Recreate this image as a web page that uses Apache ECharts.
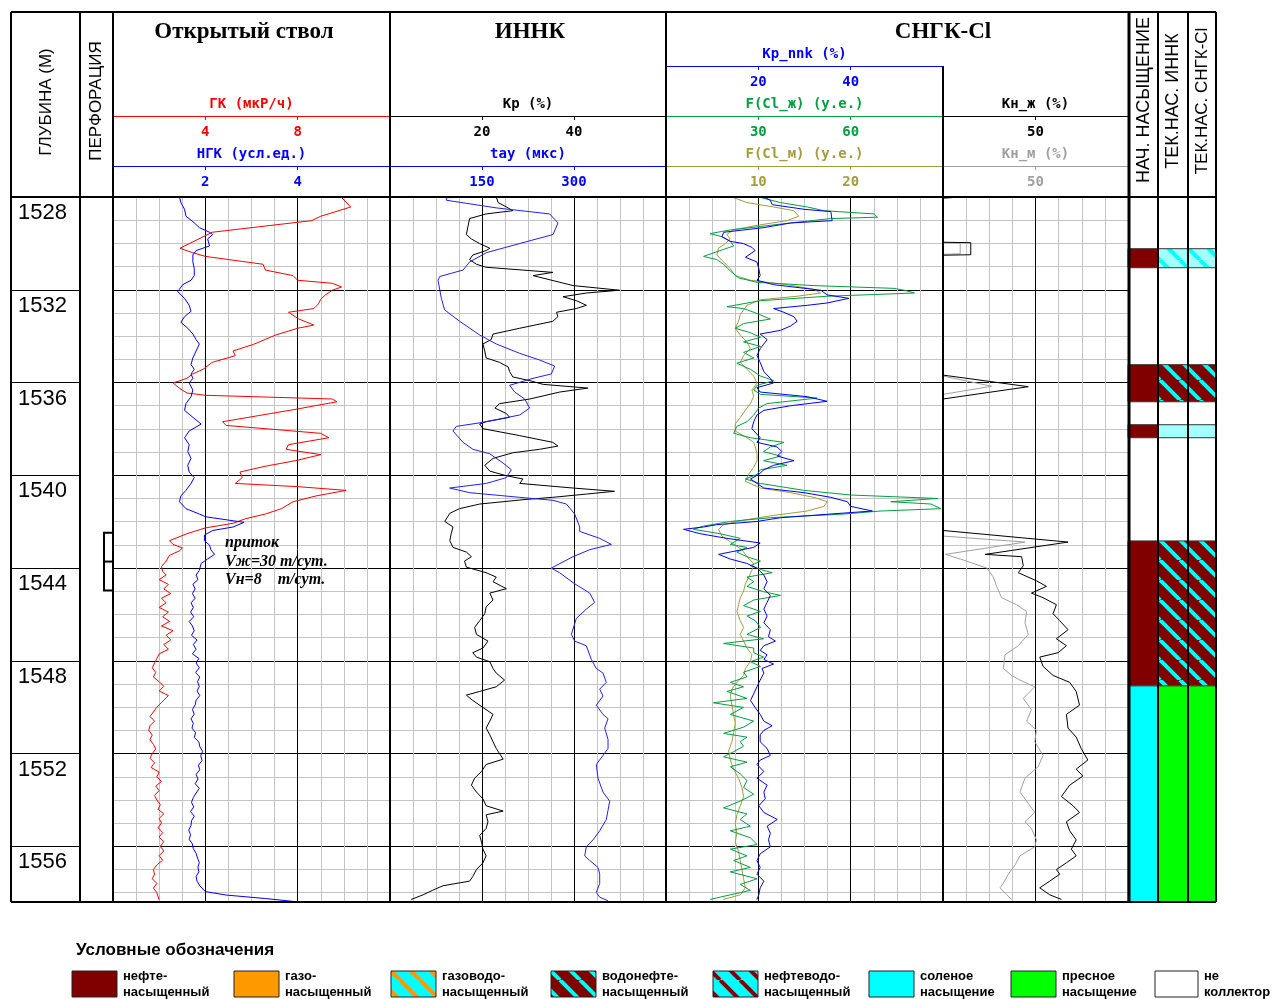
<!DOCTYPE html>
<html><head><meta charset="utf-8">
<script src="https://cdn.jsdelivr.net/npm/echarts@6/dist/echarts.min.js"></script>
<style>html,body{margin:0;padding:0;background:#fff}#c{width:1274px;height:999px}</style>
</head><body><div id="c"></div>
<script>
// ---------------- DATA ----------------
const depthMin = 1528, depthMax = 1558.4;
const depthTicks = [1528, 1532, 1536, 1540, 1544, 1548, 1552, 1556];

// [depth, value]
const gk = [[1528.00,4.0],[1528.02,9.9],[1528.43,10.3],[1528.83,9.0],[1529.02,8.6],[1529.52,4.3],[1530.21,2.9],[1530.40,3.45],[1530.56,4.0],[1530.90,6.5],[1531.15,6.6],[1531.39,7.8],[1531.59,8.0],[1531.72,9.5],[1531.88,9.9],[1532.02,9.5],[1532.22,9.2],[1532.41,9.0],[1532.61,8.9],[1532.81,8.7],[1532.97,7.6],[1533.26,8.05],[1533.52,8.7],[1533.66,8.0],[1533.95,7.05],[1534.35,6.1],[1534.64,5.2],[1534.84,5.3],[1535.13,4.3],[1535.43,3.9],[1535.63,3.45],[1535.82,3.2],[1536.02,2.6],[1536.26,2.9],[1536.45,3.2],[1536.55,4.0],[1536.71,9.5],[1536.83,9.7],[1537.14,8.0],[1537.69,4.75],[1537.85,4.9],[1538.19,9.0],[1538.38,9.35],[1538.68,7.6],[1538.88,7.5],[1539.11,9.0],[1539.37,7.9],[1539.61,6.6],[1539.86,5.5],[1540.10,5.6],[1540.35,5.3],[1540.49,8.0],[1540.65,10.1],[1540.89,8.8],[1541.14,7.8],[1541.44,7.3],[1541.67,6.6],[1541.87,5.75],[1542.07,5.2],[1542.27,4.0],[1542.52,3.2],[1542.82,2.45],[1542.98,2.6],[1543.13,3.0],[1543.25,2.9],[1543.45,2.45],[1543.70,2.3],[1543.94,2.1],[1544.14,2.15],[1544.30,2.3],[1544.50,2.0],[1544.70,2.4],[1544.90,2.2],[1545.10,2.5],[1545.30,2.1],[1545.50,2.3],[1545.70,2.0],[1545.90,2.4],[1546.10,2.15],[1546.30,2.45],[1546.50,2.1],[1546.70,2.6],[1546.90,2.3],[1547.10,2.5],[1547.30,2.2],[1547.50,2.4],[1547.70,2.0],[1547.90,1.9],[1548.10,1.8],[1548.30,1.7],[1548.50,1.85],[1548.70,1.75],[1548.90,2.0],[1549.10,2.2],[1549.30,2.0],[1549.50,2.4],[1549.60,2.3],[1549.80,2.1],[1550.00,1.9],[1550.20,1.75],[1550.40,1.6],[1550.60,1.8],[1550.80,1.6],[1551.00,1.55],[1551.20,1.7],[1551.40,1.6],[1551.60,1.75],[1551.80,1.85],[1552.00,1.7],[1552.20,1.6],[1552.40,1.8],[1552.60,1.65],[1552.80,2.0],[1553.00,1.9],[1553.20,2.1],[1553.40,1.85],[1553.60,2.0],[1553.80,1.8],[1554.00,1.9],[1554.20,2.05],[1554.40,1.95],[1554.60,2.2],[1554.80,2.0],[1555.00,2.1],[1555.20,1.95],[1555.40,2.15],[1555.60,2.0],[1555.80,2.2],[1556.00,2.05],[1556.20,2.2],[1556.40,2.0],[1556.60,2.15],[1556.80,1.9],[1557.00,1.75],[1557.20,1.8],[1557.40,1.7],[1557.60,1.9],[1557.80,1.75],[1558.00,1.9],[1558.30,2.0]];

const ngk = [[1528.00,1.44],[1528.24,1.47],[1528.53,1.55],[1528.83,1.58],[1529.06,1.73],[1529.32,1.87],[1529.52,2.09],[1529.62,2.16],[1529.81,2.05],[1530.11,2.09],[1530.31,1.80],[1530.50,1.73],[1530.80,1.73],[1531.09,1.76],[1531.39,1.76],[1531.59,1.69],[1531.78,1.51],[1532.08,1.40],[1532.37,1.55],[1532.67,1.65],[1532.93,1.69],[1533.16,1.55],[1533.40,1.47],[1533.66,1.62],[1533.91,1.73],[1534.15,1.80],[1534.34,1.87],[1534.64,1.80],[1534.94,1.73],[1535.23,1.69],[1535.43,1.76],[1535.63,1.69],[1535.82,1.73],[1536.02,1.65],[1536.32,1.73],[1536.61,1.69],[1536.91,1.58],[1537.20,1.55],[1537.50,1.73],[1537.79,1.91],[1538.09,1.65],[1538.38,1.55],[1538.68,1.65],[1538.98,1.62],[1539.27,1.69],[1539.57,1.62],[1539.86,1.65],[1540.10,1.76],[1540.35,1.69],[1540.65,1.58],[1540.89,1.47],[1541.14,1.44],[1541.44,1.58],[1541.67,1.87],[1541.79,2.01],[1542.03,2.84],[1542.23,2.60],[1542.38,2.16],[1542.58,1.98],[1542.82,1.98],[1543.01,2.09],[1543.21,2.12],[1543.41,2.20],[1543.61,2.05],[1543.80,1.91],[1544.10,1.87],[1544.30,1.80],[1544.50,1.84],[1544.70,1.73],[1544.90,1.78],[1545.10,1.72],[1545.30,1.78],[1545.50,1.69],[1545.70,1.74],[1545.90,1.68],[1546.10,1.75],[1546.30,1.65],[1546.50,1.72],[1546.70,1.76],[1546.90,1.70],[1547.10,1.82],[1547.30,1.74],[1547.50,1.80],[1547.70,1.72],[1547.90,1.86],[1548.10,1.80],[1548.30,1.87],[1548.50,1.79],[1548.70,1.88],[1548.90,1.83],[1549.10,1.87],[1549.30,1.82],[1549.50,1.88],[1549.70,1.80],[1549.90,1.78],[1550.10,1.72],[1550.30,1.76],[1550.50,1.69],[1550.70,1.74],[1550.90,1.71],[1551.10,1.79],[1551.30,1.76],[1551.50,1.86],[1551.70,1.88],[1551.90,1.94],[1552.10,1.90],[1552.30,1.93],[1552.50,1.85],[1552.70,1.88],[1552.90,1.80],[1553.10,1.84],[1553.30,1.78],[1553.50,1.87],[1553.70,1.80],[1553.90,1.74],[1554.10,1.70],[1554.30,1.75],[1554.50,1.68],[1554.70,1.76],[1554.90,1.70],[1555.10,1.69],[1555.30,1.64],[1555.50,1.68],[1555.70,1.65],[1555.90,1.72],[1556.10,1.74],[1556.30,1.80],[1556.50,1.83],[1556.70,1.87],[1556.90,1.84],[1557.10,1.86],[1557.30,1.80],[1557.50,1.82],[1557.70,1.88],[1557.95,2.00],[1558.10,2.45],[1558.25,3.30],[1558.40,4.03]];

const kp = [[1528.00,23.1],[1528.24,23.5],[1528.43,25.3],[1528.59,26.7],[1528.73,20.9],[1528.93,17.3],[1529.22,17.0],[1529.62,16.6],[1529.81,17.7],[1530.01,19.5],[1530.21,21.7],[1530.31,20.9],[1530.50,18.0],[1530.70,17.3],[1530.90,18.8],[1531.03,20.9],[1531.25,35.4],[1531.39,31.1],[1531.82,39.8],[1532.02,49.9],[1532.14,42.7],[1532.30,37.6],[1532.47,40.5],[1532.67,42.7],[1532.81,40.5],[1532.97,36.2],[1533.16,36.5],[1533.36,35.4],[1533.66,28.2],[1533.91,22.4],[1534.15,22.0],[1534.34,20.2],[1534.64,20.6],[1534.94,20.9],[1535.13,23.8],[1535.33,25.7],[1535.53,26.0],[1535.76,26.7],[1535.92,30.4],[1536.08,33.3],[1536.24,43.0],[1536.41,36.9],[1536.71,30.4],[1536.91,23.8],[1537.10,22.8],[1537.34,25.3],[1537.50,26.0],[1537.69,20.9],[1537.79,19.5],[1537.99,20.2],[1538.29,28.2],[1538.58,35.4],[1538.74,36.5],[1538.88,32.5],[1539.03,26.7],[1539.27,22.4],[1539.57,20.6],[1539.82,21.7],[1540.02,25.3],[1540.16,28.9],[1540.35,28.2],[1540.55,39.8],[1540.69,48.8],[1540.81,42.7],[1540.95,35.4],[1541.04,29.6],[1541.24,19.5],[1541.44,15.1],[1541.64,13.0],[1541.99,11.9],[1542.23,13.7],[1542.52,13.3],[1542.82,13.0],[1543.11,13.7],[1543.31,16.6],[1543.51,17.7],[1543.70,16.2],[1543.96,16.6],[1544.20,20.9],[1544.39,23.1],[1544.59,22.4],[1544.89,25.3],[1545.08,21.7],[1545.38,22.4],[1545.67,20.9],[1545.97,20.6],[1546.27,19.5],[1546.56,18.4],[1546.86,18.8],[1547.15,21.3],[1547.45,20.2],[1547.65,18.0],[1547.84,18.8],[1548.04,21.7],[1548.33,22.4],[1548.53,23.1],[1548.83,24.9],[1549.12,23.1],[1549.32,19.5],[1549.48,16.6],[1549.71,18.0],[1550.01,20.2],[1550.31,22.4],[1550.60,21.7],[1550.90,20.9],[1551.19,21.7],[1551.49,22.4],[1551.78,23.1],[1552.24,24.6],[1552.47,20.9],[1552.77,19.9],[1553.06,18.4],[1553.36,17.7],[1553.66,18.8],[1553.95,20.2],[1554.25,20.9],[1554.48,24.6],[1554.64,20.9],[1554.94,21.3],[1555.23,20.9],[1555.53,19.5],[1555.82,19.9],[1556.12,20.2],[1556.41,20.9],[1556.71,20.2],[1557.00,18.8],[1557.30,18.0],[1557.50,17.3],[1557.70,11.5],[1557.89,9.3],[1558.09,7.2],[1558.29,4.6]];

const tau = [[1528.00,151.6],[1528.03,91.9],[1528.14,91.9],[1528.47,173.4],[1528.73,260.3],[1529.12,273.9],[1529.62,265.8],[1529.85,233.2],[1530.40,157.1],[1530.80,129.9],[1531.15,119.0],[1531.43,81.0],[1531.59,78.3],[1532.37,83.7],[1532.87,89.1],[1533.36,113.6],[1533.95,146.2],[1534.34,173.4],[1534.74,211.4],[1535.03,244.0],[1535.29,268.5],[1535.63,263.0],[1535.82,233.2],[1536.12,195.1],[1536.41,203.3],[1536.71,219.6],[1537.10,227.7],[1537.40,211.4],[1537.60,173.4],[1537.75,143.5],[1537.89,108.2],[1538.09,102.7],[1538.58,119.0],[1538.88,135.3],[1539.07,162.5],[1539.47,184.2],[1539.76,197.8],[1540.10,189.7],[1540.35,157.1],[1540.55,97.3],[1540.75,129.9],[1540.95,211.4],[1541.08,265.8],[1541.24,287.5],[1541.67,301.1],[1542.23,309.3],[1542.42,309.3],[1542.72,341.9],[1542.98,360.9],[1543.21,325.6],[1543.51,298.4],[1544.00,263.0],[1544.20,276.6],[1544.63,298.4],[1545.08,325.6],[1545.48,333.7],[1545.77,320.1],[1546.17,303.8],[1546.86,295.7],[1547.15,301.1],[1547.35,320.1],[1547.94,328.3],[1548.33,336.4],[1548.53,347.3],[1548.93,352.7],[1549.22,341.9],[1549.52,347.3],[1549.91,336.4],[1550.31,347.3],[1550.50,355.5],[1550.90,350.0],[1551.39,355.5],[1551.78,355.5],[1552.08,347.3],[1552.47,336.4],[1553.06,339.1],[1553.66,347.3],[1554.05,358.2],[1554.44,355.5],[1554.84,352.7],[1555.33,341.9],[1555.72,331.0],[1556.02,320.1],[1556.41,317.4],[1556.61,325.6],[1556.91,339.1],[1557.20,341.9],[1557.60,341.9],[1557.99,336.4],[1558.19,341.9],[1558.35,355.5]];

const kpNnk = [[1528.00,21.2],[1528.14,22.6],[1528.33,23.0],[1528.53,29.9],[1528.63,35.7],[1529.02,36.0],[1529.12,27.0],[1529.32,21.2],[1529.52,12.5],[1529.71,12.1],[1529.91,13.9],[1530.01,16.8],[1530.17,18.6],[1530.31,19.3],[1530.60,17.2],[1530.80,19.7],[1531.09,20.1],[1531.39,20.4],[1531.59,19.7],[1531.78,23.3],[1532.02,33.5],[1532.22,34.9],[1532.37,39.6],[1532.57,34.9],[1532.67,30.6],[1532.81,23.3],[1532.97,25.5],[1533.16,27.7],[1533.36,28.4],[1533.56,27.0],[1533.75,24.8],[1533.91,20.4],[1534.15,21.9],[1534.54,20.4],[1534.84,19.7],[1535.13,20.4],[1535.53,21.2],[1535.82,22.6],[1536.02,23.3],[1536.22,19.7],[1536.41,20.4],[1536.61,30.6],[1536.81,34.9],[1537.00,27.0],[1537.20,21.2],[1537.40,19.7],[1537.69,19.0],[1537.99,18.6],[1538.38,20.4],[1538.58,19.7],[1538.78,24.1],[1538.98,25.1],[1539.17,24.1],[1539.37,27.7],[1539.57,23.3],[1539.76,21.2],[1539.96,20.1],[1540.16,18.3],[1540.35,19.7],[1540.55,21.2],[1540.75,29.9],[1540.95,35.7],[1541.14,39.3],[1541.34,40.0],[1541.54,44.7],[1541.67,35.7],[1541.83,24.8],[1541.99,19.7],[1542.13,11.0],[1542.23,8.1],[1542.33,3.8],[1542.52,7.4],[1542.72,13.2],[1542.92,20.4],[1543.11,19.0],[1543.31,13.9],[1543.41,11.4],[1543.61,13.9],[1543.80,17.5],[1544.00,19.7],[1544.30,21.2],[1544.59,21.9],[1544.89,21.2],[1545.18,22.6],[1545.48,21.9],[1545.77,21.2],[1546.07,21.9],[1546.36,21.2],[1546.66,22.6],[1546.96,22.2],[1547.15,23.7],[1547.35,21.2],[1547.55,20.4],[1547.74,21.9],[1547.94,21.2],[1548.14,23.3],[1548.33,20.8],[1548.53,21.2],[1548.83,20.4],[1549.12,19.7],[1549.42,19.0],[1549.71,18.3],[1550.01,19.3],[1550.31,20.4],[1550.60,21.2],[1550.80,23.0],[1551.00,21.2],[1551.19,20.4],[1551.49,20.4],[1551.78,21.9],[1552.08,22.6],[1552.28,20.4],[1552.47,19.7],[1552.77,21.2],[1553.06,19.7],[1553.36,21.9],[1553.66,21.2],[1553.95,21.5],[1554.25,20.1],[1554.54,21.2],[1554.84,24.1],[1555.13,21.9],[1555.43,22.6],[1555.72,22.2],[1556.02,22.6],[1556.32,20.4],[1556.61,19.7],[1556.91,20.4],[1557.20,19.7],[1557.50,21.2],[1557.79,20.4],[1558.09,20.1],[1558.29,19.7]];

const fClZh = [[1528.00,30.1],[1528.24,37.2],[1528.43,45.9],[1528.59,51.3],[1528.73,67.6],[1528.87,68.7],[1528.93,53.5],[1529.12,40.4],[1529.42,20.9],[1529.58,14.3],[1529.71,18.2],[1529.91,20.9],[1530.11,22.0],[1530.31,17.6],[1530.56,12.2],[1530.70,16.5],[1530.90,18.7],[1531.19,20.9],[1531.49,23.6],[1531.68,29.6],[1531.82,48.0],[1531.94,74.1],[1532.02,77.4],[1532.14,80.7],[1532.28,52.4],[1532.47,30.7],[1532.73,19.8],[1532.81,25.2],[1532.97,28.5],[1533.26,33.9],[1533.46,25.2],[1533.66,22.5],[1533.85,27.4],[1534.05,30.7],[1534.25,25.2],[1534.44,30.7],[1534.70,25.2],[1534.94,28.5],[1535.17,23.0],[1535.43,27.4],[1535.72,30.7],[1535.92,35.0],[1536.12,29.6],[1536.32,28.5],[1536.51,30.7],[1536.67,49.1],[1536.91,32.8],[1537.10,30.1],[1537.40,28.5],[1537.69,26.3],[1537.89,23.0],[1538.19,22.0],[1538.38,27.4],[1538.58,38.3],[1538.78,33.9],[1538.98,31.7],[1539.17,37.2],[1539.37,31.7],[1539.57,39.3],[1539.76,30.7],[1539.96,29.6],[1540.16,25.8],[1540.35,30.7],[1540.65,44.8],[1540.85,60.0],[1541.00,88.3],[1541.14,73.0],[1541.24,86.1],[1541.44,89.3],[1541.54,69.8],[1541.67,57.8],[1541.83,33.9],[1541.99,20.9],[1542.19,12.2],[1542.33,8.9],[1542.52,17.6],[1542.72,24.1],[1542.98,20.9],[1543.11,26.3],[1543.31,23.0],[1543.51,26.3],[1543.70,30.7],[1543.90,27.4],[1544.10,31.7],[1544.20,34.5],[1544.39,26.3],[1544.59,28.5],[1544.79,26.3],[1545.02,31.7],[1545.18,37.2],[1545.38,28.5],[1545.62,25.2],[1545.87,30.7],[1546.07,26.3],[1546.27,29.0],[1546.56,30.7],[1546.86,26.3],[1547.05,31.7],[1547.25,18.7],[1547.45,28.5],[1547.65,28.5],[1547.84,31.7],[1548.04,27.4],[1548.24,30.7],[1548.49,25.2],[1548.69,26.3],[1548.93,20.9],[1549.12,25.2],[1549.32,19.8],[1549.62,26.3],[1549.81,15.4],[1550.01,25.2],[1550.31,20.9],[1550.60,28.5],[1550.86,25.2],[1551.13,18.7],[1551.29,26.3],[1551.49,24.1],[1551.68,25.2],[1551.92,22.0],[1552.14,18.7],[1552.37,26.3],[1552.57,20.9],[1552.87,24.1],[1553.16,26.3],[1553.46,25.2],[1553.75,28.5],[1554.05,24.1],[1554.34,18.7],[1554.60,26.3],[1554.84,24.1],[1555.13,27.4],[1555.33,20.9],[1555.63,27.4],[1555.92,29.6],[1556.12,20.9],[1556.41,26.3],[1556.61,22.0],[1556.91,27.4],[1557.10,20.9],[1557.40,29.6],[1557.64,24.1],[1557.90,27.4],[1558.09,20.9],[1558.29,14.3]];

const fClM = [[1528.00,7.14],[1528.24,8.77],[1528.43,11.67],[1528.59,13.84],[1528.83,14.38],[1529.02,13.12],[1529.22,9.86],[1529.42,7.32],[1529.62,6.59],[1529.81,6.96],[1530.01,6.41],[1530.21,5.69],[1530.50,5.51],[1530.80,6.23],[1531.09,6.96],[1531.39,7.50],[1531.59,9.13],[1531.78,13.12],[1531.98,16.01],[1532.14,16.74],[1532.28,14.20],[1532.43,10.22],[1532.67,8.77],[1532.87,8.41],[1533.06,8.04],[1533.36,7.86],[1533.66,7.50],[1533.95,8.04],[1534.25,8.77],[1534.54,9.13],[1534.84,8.41],[1535.13,8.04],[1535.43,8.77],[1535.72,9.49],[1536.02,9.86],[1536.32,9.31],[1536.61,9.49],[1536.91,9.13],[1537.20,8.59],[1537.50,8.04],[1537.79,7.50],[1538.09,7.50],[1538.38,8.77],[1538.58,9.49],[1538.78,9.67],[1539.07,9.86],[1539.37,9.86],[1539.66,9.49],[1539.96,8.95],[1540.26,8.59],[1540.55,10.22],[1540.75,13.48],[1540.95,16.01],[1541.14,17.46],[1541.34,17.10],[1541.54,15.29],[1541.73,11.67],[1541.93,8.41],[1542.13,6.23],[1542.33,5.69],[1542.62,6.05],[1542.92,7.14],[1543.21,8.22],[1543.51,8.77],[1543.80,9.49],[1544.10,9.31],[1544.39,8.95],[1544.69,8.59],[1544.99,8.41],[1545.28,8.04],[1545.58,7.86],[1545.87,7.68],[1546.27,8.04],[1546.56,8.41],[1546.86,8.04],[1547.15,8.41],[1547.45,8.77],[1547.74,9.31],[1548.04,9.13],[1548.33,8.59],[1548.63,8.41],[1548.93,7.68],[1549.22,7.14],[1549.52,6.96],[1549.91,7.14],[1550.31,7.32],[1550.70,7.50],[1551.09,7.32],[1551.49,7.14],[1551.88,6.78],[1552.28,6.96],[1552.67,7.32],[1553.06,7.86],[1553.46,8.22],[1553.85,8.41],[1554.25,8.04],[1554.64,7.68],[1555.03,7.50],[1555.43,7.68],[1555.82,7.50],[1556.22,7.86],[1556.61,8.04],[1557.00,8.22],[1557.40,8.41],[1557.79,8.59],[1558.09,8.04],[1558.29,6.23]];

// null = break in the curve
const knZh = [[1528.00,10.2],[1528.05,0],null,[1529.95,0],[1529.97,15.0],[1530.49,15.0],[1530.51,0],null,[1535.68,0],[1536.18,46.1],[1536.71,0],null,[1542.38,0],[1542.88,67.6],[1543.41,22.8],[1543.51,42.5],[1543.90,43.4],[1544.20,40.7],[1544.55,50.5],[1544.79,55.9],[1545.08,47.8],[1545.28,54.1],[1545.58,61.3],[1545.97,59.5],[1546.27,63.1],[1546.66,67.6],[1547.05,61.3],[1547.35,66.7],[1547.65,62.2],[1547.84,52.3],[1548.24,54.1],[1548.63,59.5],[1548.93,68.5],[1549.32,72.0],[1549.91,73.8],[1550.31,66.7],[1550.90,67.6],[1551.29,72.0],[1551.78,74.7],[1552.28,78.3],[1552.67,72.0],[1552.97,75.6],[1553.36,68.5],[1553.85,64.0],[1554.25,70.3],[1554.54,73.8],[1554.94,66.7],[1555.33,68.5],[1555.72,72.0],[1556.12,69.4],[1556.41,72.0],[1556.71,66.7],[1557.00,61.3],[1557.20,63.1],[1557.50,57.7],[1557.79,52.3],[1558.09,57.7],[1558.29,64.0]];

const knM = [[1529.97,0],[1529.99,9.3],[1530.45,9.3],[1530.47,0],null,[1535.72,0],[1536.16,26.3],[1536.51,0],null,[1542.62,0],[1542.88,44.3],[1543.41,1.3],[1543.61,9.3],[1544.00,23.7],[1544.39,27.2],[1544.79,29.0],[1545.28,31.7],[1545.58,39.8],[1545.87,45.2],[1546.36,44.3],[1546.86,46.1],[1547.35,40.7],[1547.74,33.5],[1548.33,32.6],[1548.63,37.1],[1548.83,41.6],[1549.12,49.6],[1549.62,43.4],[1550.11,47.8],[1550.60,45.2],[1551.00,50.5],[1551.49,49.6],[1552.08,54.1],[1552.57,51.4],[1553.06,44.3],[1553.66,41.6],[1554.15,46.1],[1554.54,49.6],[1554.94,44.3],[1555.23,47.8],[1555.72,50.5],[1556.02,49.6],[1556.41,41.6],[1556.81,38.9],[1557.20,35.3],[1557.59,32.6],[1557.79,30.8],[1558.09,34.4],[1558.29,37.1]];

// perforation interval [top, middle mark, bottom]
const perforation = [1542.48, 1543.72, 1544.97];

// saturation intervals [from, to, kind]
const satInitial = [[1530.23,1531.05,'oil'],[1535.23,1536.83,'oil'],[1537.82,1538.38,'oil'],[1542.83,1549.08,'oil'],[1549.08,1558.4,'salt']];
const satInnk    = [[1530.23,1531.05,'lightStriped'],[1535.23,1536.83,'waterOil'],[1537.82,1538.38,'light'],[1542.83,1549.08,'waterOil'],[1549.08,1558.4,'fresh']];
const satSngk    = [[1530.23,1531.05,'lightStriped'],[1535.23,1536.83,'waterOil'],[1537.82,1538.38,'light'],[1542.83,1549.08,'waterOil'],[1549.08,1558.4,'fresh']];

const legendItems = [['oil','нефте-','насыщенный'],['gas','газо-','насыщенный'],['gasWater','газоводо-','насыщенный'],['waterOil','водонефте-','насыщенный'],['oilWater','нефтеводо-','насыщенный'],['salt','соленое','насыщение'],['fresh','пресное','насыщение'],['none','не','коллектор']];

// ---------------- STYLE ----------------
const MONO = '"DejaVu Sans Mono", monospace';
const SANS = '"Liberation Sans", Arial, sans-serif';
const SERIF = '"Liberation Serif", "Times New Roman", serif';
const MAJ = '#000000', MIN = '#c4c4c4';
const C = {red:'#ff0000', blue:'#0000ff', green:'#00a040', olive:'#a39b3c', gray:'#a0a0a0', black:'#000'};

function stripes(bg, fg, P, w) {
  const c = document.createElement('canvas'); c.width = P; c.height = P;
  const g = c.getContext('2d'); g.fillStyle = bg; g.fillRect(0, 0, P, P);
  g.strokeStyle = fg; g.lineWidth = w;
  for (let k = -1; k <= 1; k++) { g.beginPath(); g.moveTo(k * P, 0); g.lineTo(k * P + P, P); g.stroke(); }
  return {image: c, repeat: 'repeat'};
}
const MAROON = '#800000', CYAN = '#00ffff', LCYAN = '#a4ffff';
const FILL = {
  oil: MAROON, gas: '#ff9900', salt: CYAN, fresh: '#00ff00', none: '#ffffff', light: LCYAN,
  lightStriped: stripes(LCYAN, CYAN, 20, 4),
  waterOil: stripes(MAROON, CYAN, 20, 4),
  oilWater: stripes(CYAN, MAROON, 20, 4),
  gasWater: stripes(CYAN, '#ff9900', 20, 4)
};

// ---------------- LAYOUT ----------------
const TOP = 197, H = 705;
const gridDefs = [[11,69],[80,33],[113,277],[390,276],[666,277],[943,185],[1128,30],[1158,30],[1188,28]];
const grids = gridDefs.map(g => ({left: g[0], width: g[1], top: TOP, height: H, containLabel: false, outerBoundsMode: 'none'}));

const xAxes = [], yAxes = [];
function addX(o) {
  xAxes.push(Object.assign({type: 'value', axisLine: {show: false, onZero: false}, axisTick: {show: false},
    axisLabel: {show: false}, splitLine: {show: false}}, o));
  return xAxes.length - 1;
}
function gridX(g, n) {
  return addX({gridIndex: g, position: 'bottom', min: 0, max: n, interval: 1,
    splitLine: {show: true, lineStyle: {color: [MAJ, MIN, MIN, MIN], width: 1}}});
}
function hdrX(g, offset, min, max, interval, name, color) {
  return addX({gridIndex: g, position: 'top', offset, min, max, interval, name, nameLocation: 'middle', nameGap: 3,
    nameTextStyle: {color, fontFamily: MONO, fontWeight: 'bold', fontSize: 14},
    axisLine: {show: true, onZero: false, lineStyle: {color, width: 1}},
    axisTick: {show: true, inside: true, length: 4, lineStyle: {color, width: 1}},
    axisLabel: {show: true, inside: true, margin: 9, color, fontFamily: MONO, fontWeight: 'bold', fontSize: 14,
      showMinLabel: false, showMaxLabel: false},
    splitLine: {show: false}});
}
gridDefs.forEach((g, i) => {
  const y = {gridIndex: i, type: 'value', inverse: true, min: depthMin, max: depthMax, interval: 1,
    axisLine: {show: false}, axisTick: {show: false}, axisLabel: {show: false}, splitLine: {show: false}};
  if (i >= 2 && i <= 5) y.splitLine = {show: true, lineStyle: {color: [MAJ, MIN, MIN, MIN], width: 1}};
  if (i === 0) {
    y.interval = 4;
    y.splitLine = {show: true, lineStyle: {color: '#000', width: 1}};
    y.axisLabel = {show: true, inside: true, align: 'left', verticalAlign: 'top', margin: 7, padding: [5, 0, 0, 0],
      fontSize: 22, lineHeight: 22, fontFamily: SANS, color: '#000', showMaxLabel: false,
      formatter: v => depthTicks.indexOf(v) >= 0 ? String(v) : ''};
  }
  yAxes.push(y);
});

const xDepth = addX({gridIndex: 0, min: 0, max: 1});
const xPerf = addX({gridIndex: 1, min: 0, max: 1});
gridX(2, 12);
const xGK  = hdrX(2, 81, 0, 12, 4, 'ГК (мкР/ч)', C.red);
const xNGK = hdrX(2, 31, 0, 6, 2, 'НГК (усл.ед.)', C.blue);
gridX(3, 12);
const xKp  = hdrX(3, 81, 0, 60, 20, 'Кр (%)', C.black);
const xTau = hdrX(3, 31, 0, 450, 150, 'tay (мкс)', C.blue);
gridX(4, 12);
const xKpN = hdrX(4, 131, 0, 60, 20, 'Кр_nnk (%)', C.blue);
const xFZ  = hdrX(4, 81, 0, 90, 30, 'F(Cl_ж) (у.е.)', C.green);
const xFM  = hdrX(4, 31, 0, 30, 10, 'F(Cl_м) (у.е.)', C.olive);
gridX(5, 8);
const xKnZ = hdrX(5, 81, 0, 100, 50, 'Кн_ж (%)', C.black);
const xKnM = hdrX(5, 31, 0, 100, 50, 'Кн_м (%)', C.gray);
const xC1 = addX({gridIndex: 6, min: 0, max: 1});
const xC2 = addX({gridIndex: 7, min: 0, max: 1});
const xC3 = addX({gridIndex: 8, min: 0, max: 1});

function curve(data, xi, yi, color) {
  return {type: 'line', xAxisIndex: xi, yAxisIndex: yi, symbol: 'none', silent: true, z: 5,
    data: data.map(p => p ? [p[1], p[0]] : ['-', '-']), connectNulls: false,
    lineStyle: {color, width: 1}, itemStyle: {color}};
}
function satSeries(rows, xi, yi) {
  return {type: 'custom', xAxisIndex: xi, yAxisIndex: yi, silent: true, z: 3,
    data: rows.map(r => [r[0], r[1]]),
    renderItem: (params, api) => {
      const p0 = api.coord([0, api.value(0)]), p1 = api.coord([1, api.value(1)]);
      return {type: 'rect', shape: {x: p0[0], y: p0[1], width: p1[0] - p0[0], height: p1[1] - p0[1]},
        style: {fill: FILL[rows[params.dataIndex][2]], stroke: '#333', lineWidth: 1}};
    }};
}
const perfSeries = {type: 'custom', xAxisIndex: xPerf, yAxisIndex: 1, silent: true, z: 6,
  data: [[perforation[0], perforation[1], perforation[2]]],
  renderItem: (params, api) => {
    const a = api.coord([1, api.value(0)]), m = api.coord([1, api.value(1)]), b = api.coord([1, api.value(2)]);
    const L = a[0] - 9;
    return {type: 'group', children: [
      {type: 'polyline', shape: {points: [[a[0], a[1]], [L, a[1]], [L, b[1]], [b[0], b[1]]]}, style: {stroke: '#000', lineWidth: 2, fill: null}},
      {type: 'line', shape: {x1: L, y1: m[1], x2: m[0], y2: m[1]}, style: {stroke: '#000', lineWidth: 2}}
    ]};
  }};

const series = [
  curve(gk, xGK, 2, C.red), curve(ngk, xNGK, 2, C.blue),
  curve(kp, xKp, 3, C.black), curve(tau, xTau, 3, '#2020ff'),
  curve(fClM, xFM, 4, C.olive), curve(fClZh, xFZ, 4, C.green), curve(kpNnk, xKpN, 4, C.blue),
  curve(knM, xKnM, 5, C.gray), curve(knZh, xKnZ, 5, C.black),
  satSeries(satInitial, xC1, 6), satSeries(satInnk, xC2, 7), satSeries(satSngk, xC3, 8),
  perfSeries
];

// ---------------- GRAPHIC (frame, titles, legend) ----------------
const G = [];
function line(x1, y1, x2, y2, w) { G.push({type: 'line', z: 100, shape: {x1, y1, x2, y2}, style: {stroke: '#000', lineWidth: w || 2}}); }
function text(x, y, t, o) {
  G.push(Object.assign({type: 'text', z: 101, x, y, style: Object.assign({text: t, fill: '#000', align: 'center', verticalAlign: 'middle'}, o.style)}, o.el || {}));
}
line(11, 12, 1216, 12); line(11, 902, 1216, 902); line(11, 197, 1216, 197);
[11, 80, 113, 390, 666, 1158, 1188, 1216].forEach(x => line(x, 12, x, 902));
line(1129, 12, 1129, 902, 3);
line(943, 66, 943, 902);

text(244, 32, 'Открытый ствол', {style: {fontFamily: SERIF, fontWeight: 'bold', fontSize: 23}});
text(530, 32, 'ИННК', {style: {fontFamily: SERIF, fontWeight: 'bold', fontSize: 23}});
text(943, 32, 'СНГК-Cl', {style: {fontFamily: SERIF, fontWeight: 'bold', fontSize: 23}});
const vert = {fontFamily: SANS, fontSize: 17};
text(46, 102, 'ГЛУБИНА (М)', {style: vert, el: {rotation: Math.PI / 2}});
text(96, 101, 'ПЕРФОРАЦИЯ', {style: vert, el: {rotation: Math.PI / 2}});
text(1144, 100, 'НАЧ. НАСЫЩЕНИЕ', {style: {fontFamily: SANS, fontSize: 18}, el: {rotation: Math.PI / 2}});
text(1173, 101, 'ТЕК.НАС. ИННК', {style: {fontFamily: SANS, fontSize: 18}, el: {rotation: Math.PI / 2}});
text(1202, 101, 'ТЕК.НАС. СНГК-Cl', {style: {fontFamily: SANS, fontSize: 17}, el: {rotation: Math.PI / 2}});

const ann = {fontFamily: SERIF, fontWeight: 'bold', fontStyle: 'italic', fontSize: 16, align: 'left'};
text(225, 543, 'приток', {style: ann});
text(225, 562, 'Vж=30 т/сут.', {style: ann});
text(225, 580, 'Vн=8    т/сут.', {style: ann});

text(76, 950, 'Условные обозначения', {style: {fontFamily: SANS, fontWeight: 'bold', fontSize: 17, align: 'left'}});
const legX = [72, 234, 391, 551, 713, 869, 1011, 1155];
legendItems.forEach((it, i) => {
  const x = legX[i], w = i === 7 ? 43 : 45;
  G.push({type: 'rect', z: 100, shape: {x: x, y: 971, width: w, height: 26}, style: {fill: FILL[it[0]], stroke: '#222', lineWidth: 1}});
  const ls = {fontFamily: SANS, fontWeight: 'bold', fontSize: 13, align: 'left'};
  text(x + w + 6, 976, it[1], {style: ls});
  text(x + w + 6, 992, it[2], {style: ls});
});

const chart = echarts.init(document.getElementById('c'), null, {renderer: 'canvas'});
chart.setOption({
  animation: false,
  backgroundColor: '#fff',
  grid: grids,
  xAxis: xAxes,
  yAxis: yAxes,
  series: series,
  graphic: G
});
</script></body></html>
